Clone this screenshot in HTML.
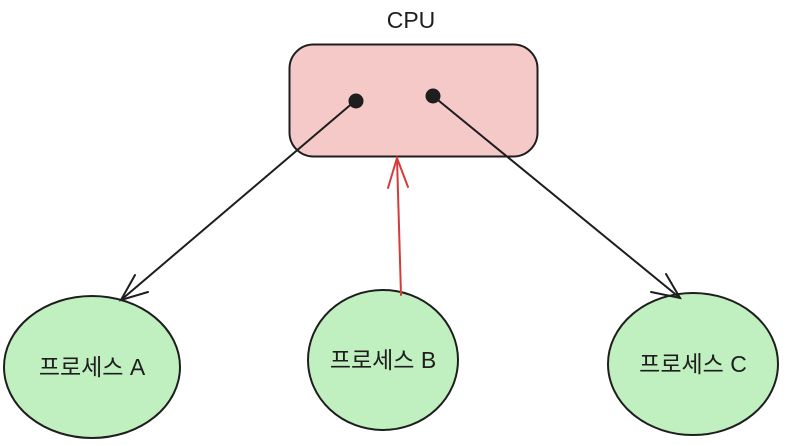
<!DOCTYPE html>
<html><head><style>html,body{margin:0;padding:0;background:#fff}</style></head>
<body>
<svg width="790" height="446" xmlns="http://www.w3.org/2000/svg" style="display:block">
<g font-family="Liberation Sans, Noto Sans CJK KR, sans-serif" fill="#1e1e1e">
<text x="411" y="28" font-size="23" text-anchor="middle">CPU</text>
</g>
<rect x="289.5" y="44.5" width="248" height="112" rx="24" fill="#f6c9c9" stroke="#1e1e1e" stroke-width="2"/>
<g stroke="#1e1e1e" stroke-width="2" fill="#c0efc0">
<ellipse cx="92" cy="367" rx="88" ry="71"/>
<ellipse cx="383" cy="360" rx="75" ry="70"/>
<ellipse cx="693" cy="364" rx="85" ry="71"/>
</g>
<g stroke="#1e1e1e" stroke-width="2" fill="none" stroke-linecap="round">
<line x1="355" y1="101" x2="121" y2="300"/>
<polyline points="135,275 121,300 148,292"/>
<line x1="433" y1="96" x2="680" y2="298"/>
<polyline points="651,292 680,298 666,274"/>
</g>
<circle cx="356" cy="101" r="7.5" fill="#1e1e1e"/>
<circle cx="433" cy="96" r="7.5" fill="#1e1e1e"/>
<g stroke="#d63b3b" stroke-width="2" fill="none" stroke-linecap="round">
<line x1="401" y1="295" x2="397" y2="158"/>
<polyline points="388,188 397,158 408,187"/>
</g>
<g font-family="Liberation Sans, Noto Sans CJK KR, sans-serif" font-size="23" fill="#1e1e1e" text-anchor="middle">
<text x="92" y="375">프로세스 A</text>
<text x="383" y="368">프로세스 B</text>
<text x="693" y="372">프로세스 C</text>
</g>
</svg>
</body></html>
